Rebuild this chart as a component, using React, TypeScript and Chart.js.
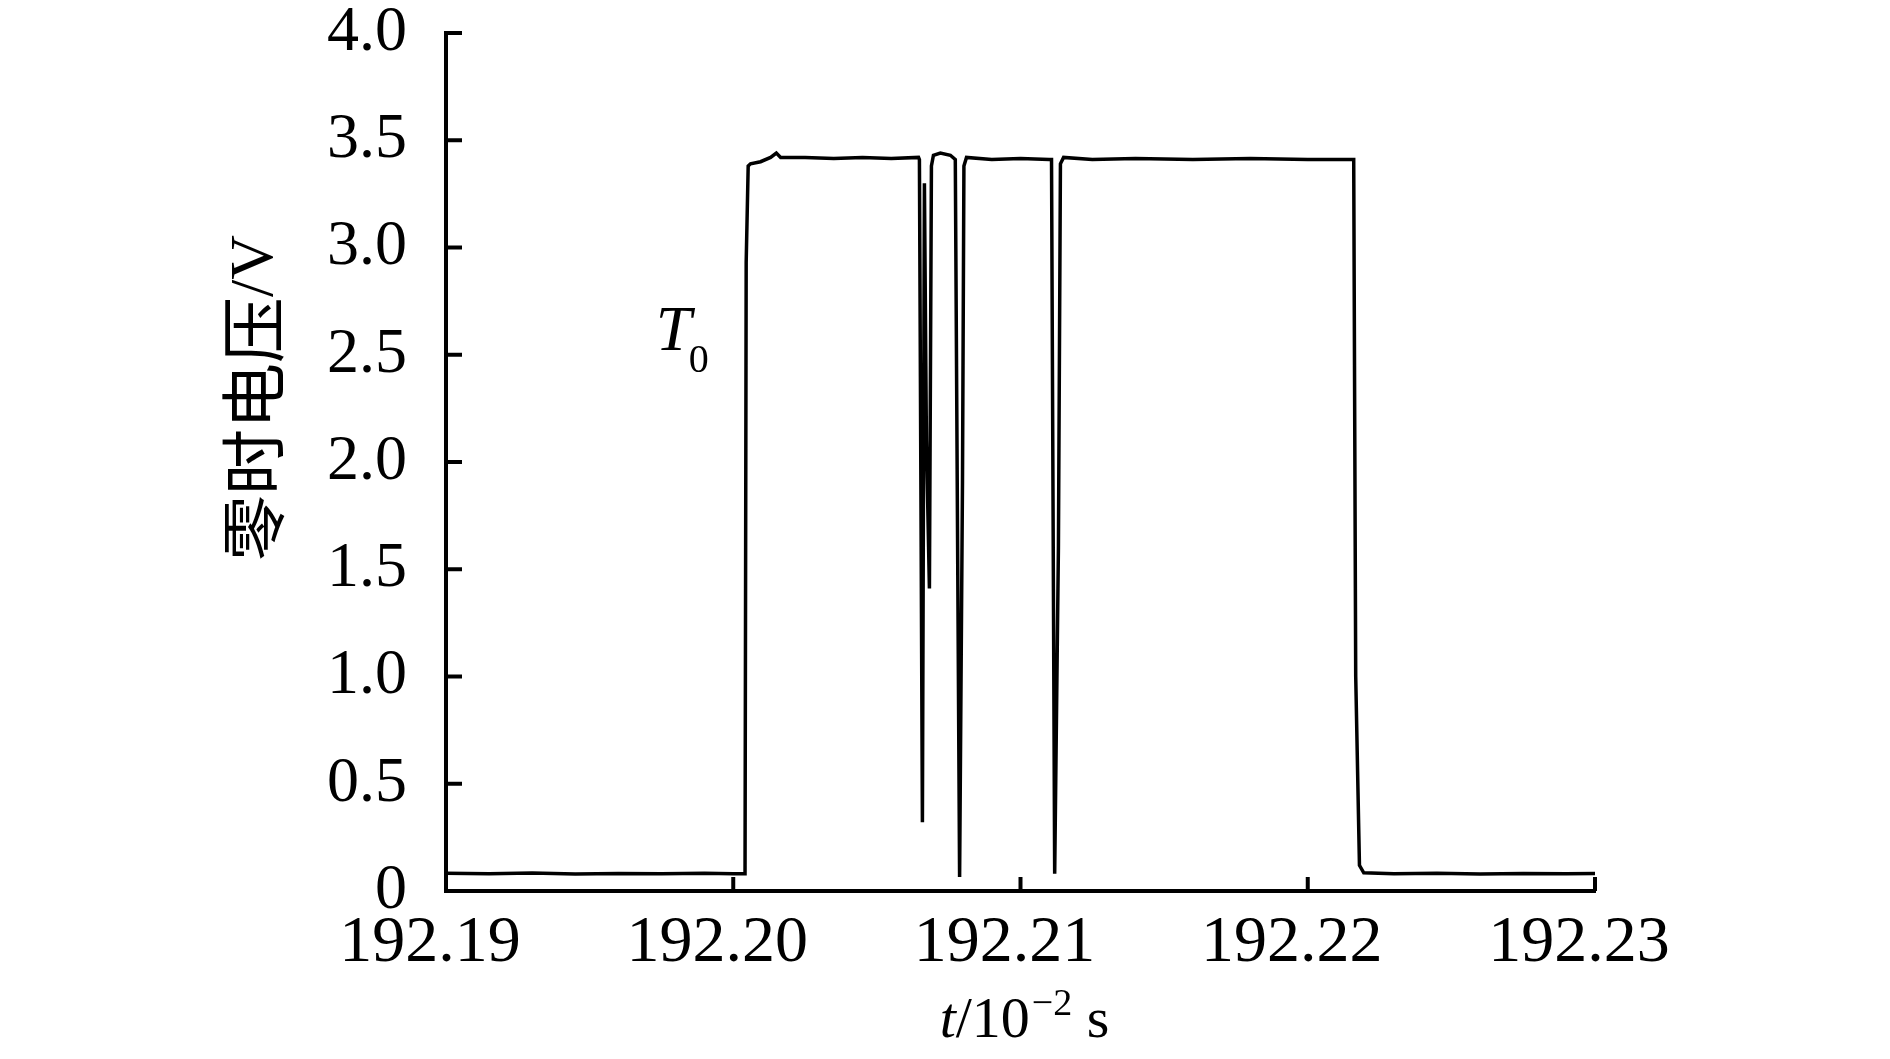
import React, { useEffect, useRef } from "react";
import { Chart, registerables } from "chart.js";

Chart.register(...registerables);

// ---- data (time in 10^-2 s, zero-time voltage in V) ----
const timeValues: number[] = [
  192.19, 192.1915, 192.193, 192.1945, 192.196, 192.1975, 192.199, 192.2, 192.20041,
  192.20045, 192.20052, 192.2006, 192.20095, 192.2013, 192.2015, 192.20165, 192.2025,
  192.2035, 192.2045, 192.2055, 192.20645,
  192.206481, 192.206585, 192.206655, 192.206725, 192.206829, 192.206899, 192.206969,
  192.20721, 192.20756, 192.20773,
  192.20788, 192.20798, 192.20803, 192.20812, 192.209, 192.21, 192.211,
  192.21108, 192.21119, 192.21132, 192.21139, 192.2115, 192.2125, 192.214, 192.216, 192.218, 192.22, 192.2216,
  192.22167, 192.2218, 192.22195, 192.223, 192.2245, 192.226, 192.2275, 192.229, 192.23,
];
const voltageValues: number[] = [
  0.083, 0.08, 0.084, 0.079, 0.082, 0.08, 0.083, 0.081, 0.08,
  2.93, 3.38, 3.39, 3.4, 3.42, 3.44, 3.42, 3.42,
  3.415, 3.42, 3.415, 3.42,
  3.41, 0.32, 3.3, 2.1, 1.41, 3.38, 3.43,
  3.44, 3.43, 3.41,
  0.065, 1.9, 3.38, 3.42, 3.41, 3.415, 3.41,
  3.41, 0.08, 1.6, 3.39, 3.42, 3.41, 3.415, 3.41, 3.415, 3.41, 3.41,
  1.0, 0.12, 0.085, 0.08, 0.083, 0.079, 0.082, 0.08, 0.082,
];

const xTickValues: number[] = [192.19, 192.2, 192.21, 192.22, 192.23];
const xTickLabels: string[] = ["192.19", "192.20", "192.21", "192.22", "192.23"];
const yTickValues: number[] = [0, 0.5, 1, 1.5, 2, 2.5, 3, 3.5, 4];
const yTickLabels: string[] = ["0", "0.5", "1.0", "1.5", "2.0", "2.5", "3.0", "3.5", "4.0"];

const yTitleCJK = "零时电压";
const yTitleUnit = "/V";
const xTitleVar = "t";
const xTitleMid = "/10";
const xTitleSup = "−2";
const xTitleUnit = " s";
const t0Main = "T";
const t0Sub = "0";
const t0Anchor = { t: 192.1973, v: 2.52 };

const SERIF = "'Liberation Serif', 'Times New Roman', serif";
const CJK = "'Noto Sans CJK SC', sans-serif";

const decorPlugin = {
  id: "decor",
  afterDraw(chart: any) {
    const ctx: CanvasRenderingContext2D = chart.ctx;
    const { left, right, top, bottom } = chart.chartArea;
    const xs = chart.scales.x;
    const ys = chart.scales.y;
    ctx.save();
    // inward tick marks
    ctx.strokeStyle = "#000";
    ctx.lineWidth = 4;
    ctx.lineCap = "butt";
    xTickValues.forEach((v) => {
      const px = xs.getPixelForValue(v);
      ctx.beginPath();
      ctx.moveTo(px, bottom);
      ctx.lineTo(px, bottom - 14);
      ctx.stroke();
    });
    yTickValues.forEach((v) => {
      const py = ys.getPixelForValue(v);
      ctx.beginPath();
      ctx.moveTo(left, py);
      ctx.lineTo(left + 16, py);
      ctx.stroke();
    });

    ctx.fillStyle = "#000";
    // y title (rotated, mixed fonts)
    ctx.save();
    ctx.translate(left - 193, top + 365);
    ctx.rotate(-Math.PI / 2);
    ctx.textBaseline = "middle";
    ctx.textAlign = "left";
    const cjkFont = `66px ${CJK}`;
    const unitFont = `62px ${SERIF}`;
    ctx.font = cjkFont;
    const w1 = ctx.measureText(yTitleCJK).width;
    ctx.font = unitFont;
    const w2 = ctx.measureText(yTitleUnit).width;
    const sx = -(w1 + w2) / 2;
    ctx.font = cjkFont;
    ctx.fillText(yTitleCJK, sx, 0);
    ctx.font = unitFont;
    ctx.fillText(yTitleUnit, sx + w1, 3);
    ctx.restore();

    // x title
    ctx.textBaseline = "alphabetic";
    ctx.textAlign = "left";
    const fItal = `italic 58px ${SERIF}`;
    const fMain = `58px ${SERIF}`;
    const fSup = `38px ${SERIF}`;
    ctx.font = fItal;
    const a = ctx.measureText(xTitleVar).width;
    ctx.font = fMain;
    const b = ctx.measureText(xTitleMid).width;
    ctx.font = fSup;
    const c = ctx.measureText(xTitleSup).width;
    ctx.font = fMain;
    const d = ctx.measureText(xTitleUnit).width;
    const total = a + b + c + d;
    const baseY = bottom + 146;
    let x0 = (left + right) / 2 + 3 - total / 2;
    ctx.font = fItal;
    ctx.fillText(xTitleVar, x0, baseY);
    x0 += a;
    ctx.font = fMain;
    ctx.fillText(xTitleMid, x0, baseY);
    x0 += b + 2;
    ctx.font = fSup;
    ctx.fillText(xTitleSup, x0, baseY - 22);
    x0 += c;
    ctx.font = fMain;
    ctx.fillText(xTitleUnit, x0, baseY);

    // T0 label
    const tx = xs.getPixelForValue(t0Anchor.t);
    const ty = ys.getPixelForValue(t0Anchor.v);
    ctx.font = `italic 64px ${SERIF}`;
    ctx.fillText(t0Main, tx, ty);
    ctx.font = `40px ${SERIF}`;
    ctx.fillText(t0Sub, tx + 33, ty + 22);
    ctx.restore();
  },
};

export default function App() {
  const canvasRef = useRef<HTMLCanvasElement | null>(null);

  useEffect(() => {
    if (!canvasRef.current) return;
    const points = timeValues.map((t, i) => ({ x: t, y: voltageValues[i] }));
    const chart = new Chart(canvasRef.current, {
      type: "line",
      data: {
        datasets: [
          {
            data: points,
            borderColor: "#000",
            borderWidth: 3.5,
            pointRadius: 0,
            tension: 0,
            fill: false,
          },
        ],
      },
      options: {
        animation: false,
        responsive: false,
        devicePixelRatio: 1,
        layout: { padding: { top: 33, right: 295, bottom: 0, left: 0 } },
        plugins: {
          legend: { display: false },
          tooltip: { enabled: false },
          title: { display: false },
        },
        scales: {
          x: {
            type: "linear",
            min: 192.19,
            max: 192.23,
            grid: { display: false, drawTicks: false },
            border: { display: true, color: "#000", width: 4 },
            ticks: {
              color: "#000",
              font: { family: SERIF, size: 66 },
              padding: 13,
              labelOffset: -16,
              maxRotation: 0,
              autoSkip: false,
              callback: (_v: any, i: number) => xTickLabels[i],
            },
            afterBuildTicks: (scale: any) => {
              scale.ticks = xTickValues.map((v) => ({ value: v }));
            },
            afterFit: (scale: any) => {
              scale.height = 168;
              scale.paddingLeft = 0;
              scale.paddingRight = 0;
            },
          },
          y: {
            type: "linear",
            min: 0,
            max: 4,
            grid: { display: false, drawTicks: false },
            border: { display: true, color: "#000", width: 4 },
            ticks: {
              color: "#000",
              font: { family: SERIF, size: 64 },
              padding: 39,
              autoSkip: false,
              callback: (_v: any, i: number) => yTickLabels[i],
            },
            afterBuildTicks: (scale: any) => {
              scale.ticks = yTickValues.map((v) => ({ value: v }));
            },
            afterFit: (scale: any) => {
              scale.width = 446;
              scale.paddingTop = 0;
              scale.paddingBottom = 0;
            },
          },
        },
      },
      plugins: [decorPlugin],
    });
    return () => chart.destroy();
  }, []);

  return (
    <div style={{ position: "fixed", left: 0, top: 0, width: 1890, height: 1059, background: "#fff" }}>
      <canvas ref={canvasRef} width={1890} height={1059} style={{ display: "block" }} />
    </div>
  );
}
